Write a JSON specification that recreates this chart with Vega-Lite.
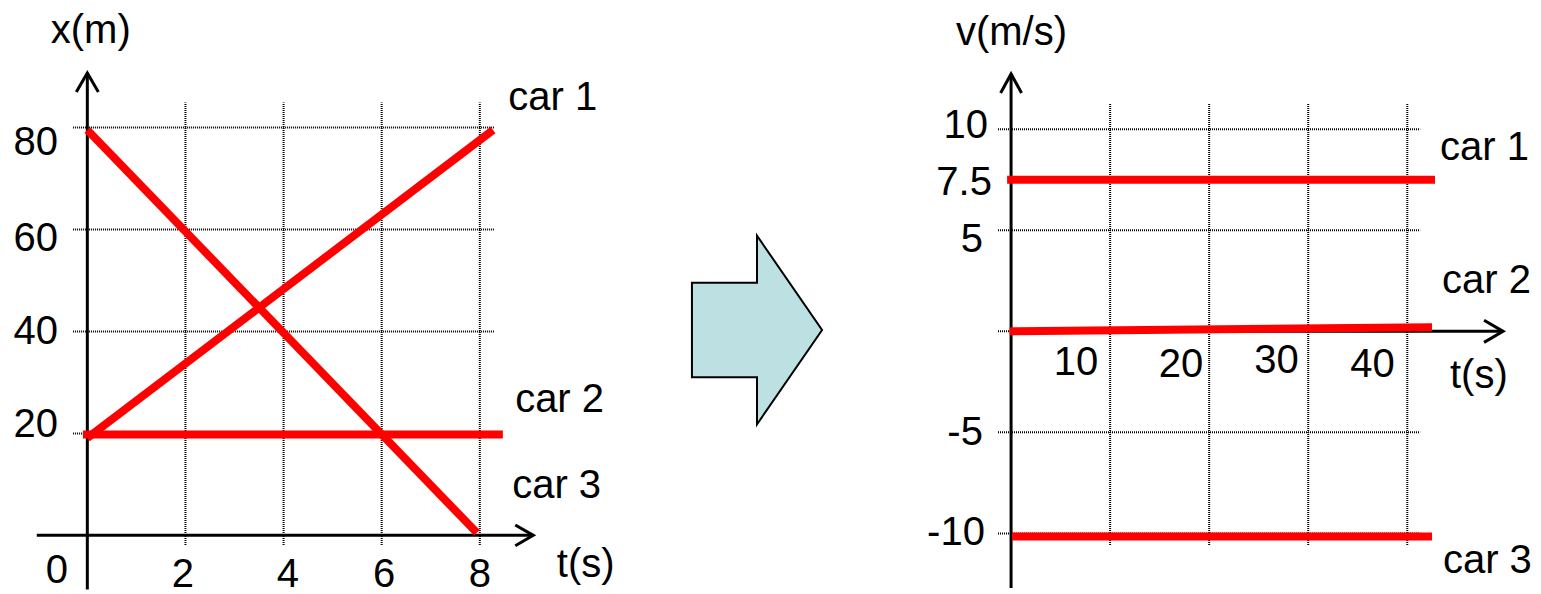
{
  "$schema": "https://vega.github.io/schema/vega-lite/v6.json",
  "description": "Position-time graph of three cars and the matching velocity-time graph",
  "background": "white",
  "padding": 0,
  "autosize": {"type": "pad"},
  "spacing": 0,
  "bounds": "flush",
  "config": {
    "view": {"stroke": null},
    "axis": {"disable": true},
    "text": {"font": "Liberation Sans", "fontSize": 40, "color": "black"}
  },
  "datasets": {
    "xGridLines": [{"x_m": 20}, {"x_m": 40}, {"x_m": 60}, {"x_m": 80}],
    "tGridLinesLeft": [{"t_s": 2}, {"t_s": 4}, {"t_s": 6}, {"t_s": 8}],
    "position": [
      {"car": "car 1", "t": 0, "x": 19.1},
      {"car": "car 1", "t": 8.27, "x": 79.5},
      {"car": "car 2", "t": -0.09, "x": 19.8},
      {"car": "car 2", "t": 8.47, "x": 19.8},
      {"car": "car 3", "t": 0, "x": 79.5},
      {"car": "car 3", "t": 7.94, "x": 0.5}
    ],
    "xTickText": [
      {"label": "80", "t": -0.6, "x": 74.6},
      {"label": "60", "t": -0.6, "x": 55.8},
      {"label": "40", "t": -0.6, "x": 37.5},
      {"label": "20", "t": -0.6, "x": 19.3}
    ],
    "leftCentredText": [
      {"label": "0", "t": -0.62, "x": -9.3},
      {"label": "2", "t": 1.95, "x": -10.2},
      {"label": "4", "t": 4.09, "x": -10.2},
      {"label": "6", "t": 6.05, "x": -10.2},
      {"label": "8", "t": 8.0, "x": -10.2},
      {"label": "x(m)", "t": 0.07, "x": 96.5}
    ],
    "leftNotes": [
      {"label": "car 1", "t": 8.58, "x": 83.4},
      {"label": "car 2", "t": 8.72, "x": 24.2},
      {"label": "car 3", "t": 8.66, "x": 7.3},
      {"label": "t(s)", "t": 9.57, "x": -8.2}
    ],
    "vGridLines": [{"v": 10}, {"v": 5}, {"v": 0}, {"v": -5}, {"v": -10}],
    "tGridLinesRight": [{"t_s": 10}, {"t_s": 20}, {"t_s": 30}, {"t_s": 40}],
    "velocity": [
      {"car": "car 1", "t": -0.4, "v": 7.5},
      {"car": "car 1", "t": 42.8, "v": 7.5},
      {"car": "car 2", "t": -0.15, "v": 0.0},
      {"car": "car 2", "t": 42.5, "v": 0.2},
      {"car": "car 3", "t": 0.1, "v": -10.15},
      {"car": "car 3", "t": 42.5, "v": -10.15}
    ],
    "vTickText": [
      {"label": "10", "t": -2.33, "v": 9.57},
      {"label": "7.5", "t": -1.93, "v": 6.75},
      {"label": "5", "t": -2.84, "v": 3.92},
      {"label": "-5", "t": -2.84, "v": -5.63},
      {"label": "-10", "t": -2.64, "v": -10.58}
    ],
    "rightCentredText": [
      {"label": "10", "t": 6.55, "v": -2.16},
      {"label": "20", "t": 17.15, "v": -2.26},
      {"label": "30", "t": 26.8, "v": -2.07},
      {"label": "40", "t": 36.5, "v": -2.26},
      {"label": "v(m/s)", "t": 0.04, "v": 14.17}
    ],
    "rightNotes": [
      {"label": "car 1", "t": 43.3, "v": 8.48},
      {"label": "car 2", "t": 43.5, "v": 1.9},
      {"label": "car 3", "t": 43.6, "v": -11.97},
      {"label": "t(s)", "t": 44.31, "v": -2.81}
    ]
  },
  "hconcat": [
    {
      "width": 600,
      "height": 594,
      "layer": [
        {
          "data": {"name": "xGridLines"},
          "mark": {"type": "rule", "stroke": "#000", "strokeWidth": 2, "strokeDash": [1, 1]},
          "encoding": {
            "y": {"field": "x_m", "type": "quantitative", "scale": {"domain": [-11.5, 105], "nice": false, "zero": false}},
            "x": {"datum": -0.29, "type": "quantitative", "scale": {"domain": [-1.78, 10.45], "nice": false, "zero": false}},
            "x2": {"datum": 8.29}
          }
        },
        {
          "data": {"name": "tGridLinesLeft"},
          "mark": {"type": "rule", "stroke": "#000", "strokeWidth": 2, "strokeDash": [1, 1]},
          "encoding": {
            "x": {"field": "t_s", "type": "quantitative", "scale": {"domain": [-1.78, 10.45], "nice": false, "zero": false}},
            "y": {"datum": -1.9, "type": "quantitative", "scale": {"domain": [-11.5, 105], "nice": false, "zero": false}},
            "y2": {"datum": 84.9}
          }
        },
        {
          "data": {"values": [{"axis": "t"}]},
          "mark": {"type": "rule", "color": "black", "strokeWidth": 3},
          "encoding": {
            "y": {"datum": 0, "type": "quantitative", "scale": {"domain": [-11.5, 105], "nice": false, "zero": false}},
            "x": {"datum": -1.03, "type": "quantitative", "scale": {"domain": [-1.78, 10.45], "nice": false, "zero": false}},
            "x2": {"datum": 9.09}
          }
        },
        {
          "data": {"values": [{"axis": "x"}]},
          "mark": {"type": "rule", "color": "black", "strokeWidth": 3},
          "encoding": {
            "x": {"datum": 0, "type": "quantitative", "scale": {"domain": [-1.78, 10.45], "nice": false, "zero": false}},
            "y": {"datum": -10.6, "type": "quantitative", "scale": {"domain": [-11.5, 105], "nice": false, "zero": false}},
            "y2": {"datum": 90.7}
          }
        },
        {
          "data": {"values": [{"axis": "t"}]},
          "mark": {"type": "point", "shape": "M -1 -0.58 L 0 0 L -1 0.58", "size": 1296, "filled": false, "color": "black", "strokeWidth": 3, "opacity": 1},
          "encoding": {
            "x": {"datum": 9.09, "type": "quantitative", "scale": {"domain": [-1.78, 10.45], "nice": false, "zero": false}},
            "y": {"datum": 0, "type": "quantitative", "scale": {"domain": [-11.5, 105], "nice": false, "zero": false}}
          }
        },
        {
          "data": {"values": [{"axis": "x"}]},
          "mark": {"type": "point", "shape": "M -0.58 1 L 0 0 L 0.58 1", "size": 1444, "filled": false, "color": "black", "strokeWidth": 3, "opacity": 1},
          "encoding": {
            "x": {"datum": 0, "type": "quantitative", "scale": {"domain": [-1.78, 10.45], "nice": false, "zero": false}},
            "y": {"datum": 90.7, "type": "quantitative", "scale": {"domain": [-11.5, 105], "nice": false, "zero": false}}
          }
        },
        {
          "data": {"name": "position"},
          "mark": {"type": "line", "color": "#ff0000", "strokeWidth": 8, "strokeCap": "butt"},
          "encoding": {
            "x": {"field": "t", "type": "quantitative", "scale": {"domain": [-1.78, 10.45], "nice": false, "zero": false}},
            "y": {"field": "x", "type": "quantitative", "scale": {"domain": [-11.5, 105], "nice": false, "zero": false}},
            "detail": {"field": "car"}
          }
        },
        {
          "data": {"name": "xTickText"},
          "mark": {"type": "text", "align": "right", "baseline": "alphabetic"},
          "encoding": {
            "x": {"field": "t", "type": "quantitative", "scale": {"domain": [-1.78, 10.45], "nice": false, "zero": false}},
            "y": {"field": "x", "type": "quantitative", "scale": {"domain": [-11.5, 105], "nice": false, "zero": false}},
            "text": {"field": "label"}
          }
        },
        {
          "data": {"name": "leftCentredText"},
          "mark": {"type": "text", "align": "center", "baseline": "alphabetic"},
          "encoding": {
            "x": {"field": "t", "type": "quantitative", "scale": {"domain": [-1.78, 10.45], "nice": false, "zero": false}},
            "y": {"field": "x", "type": "quantitative", "scale": {"domain": [-11.5, 105], "nice": false, "zero": false}},
            "text": {"field": "label"}
          }
        },
        {
          "data": {"name": "leftNotes"},
          "mark": {"type": "text", "align": "left", "baseline": "alphabetic"},
          "encoding": {
            "x": {"field": "t", "type": "quantitative", "scale": {"domain": [-1.78, 10.45], "nice": false, "zero": false}},
            "y": {"field": "x", "type": "quantitative", "scale": {"domain": [-11.5, 105], "nice": false, "zero": false}},
            "text": {"field": "label"}
          }
        }
      ]
    },
    {
      "width": 314,
      "height": 594,
      "data": {"values": [{"step": "x(t) to v(t)"}]},
      "mark": {
        "type": "point",
        "shape": "M -0.69 -0.5 L 0 -0.5 L 0 -1 L 0.69 0 L 0 1 L 0 0.5 L -0.69 0.5 Z",
        "size": 35570,
        "filled": true,
        "fill": "#bde0e3",
        "stroke": "black",
        "strokeWidth": 2,
        "opacity": 1
      },
      "encoding": {
        "x": {"datum": 0, "type": "quantitative", "scale": {"domain": [-1, 1], "nice": false, "zero": false}},
        "y": {"datum": 0, "type": "quantitative", "scale": {"domain": [-0.8, 1], "nice": false, "zero": false}}
      }
    },
    {
      "width": 627,
      "height": 594,
      "layer": [
        {
          "data": {"name": "vGridLines"},
          "mark": {"type": "rule", "stroke": "#000", "strokeWidth": 2, "strokeDash": [1, 1]},
          "encoding": {
            "y": {"field": "v", "type": "quantitative", "scale": {"domain": [-13, 16.4], "nice": false, "zero": false}},
            "x": {"datum": -1.32, "type": "quantitative", "scale": {"domain": [-9.8, 53.5], "nice": false, "zero": false}},
            "x2": {"datum": 41.3}
          }
        },
        {
          "data": {"name": "tGridLinesRight"},
          "mark": {"type": "rule", "stroke": "#000", "strokeWidth": 2, "strokeDash": [1, 1]},
          "encoding": {
            "x": {"field": "t_s", "type": "quantitative", "scale": {"domain": [-9.8, 53.5], "nice": false, "zero": false}},
            "y": {"datum": -10.58, "type": "quantitative", "scale": {"domain": [-13, 16.4], "nice": false, "zero": false}},
            "y2": {"datum": 11.3}
          }
        },
        {
          "data": {"values": [{"axis": "t"}]},
          "mark": {"type": "rule", "color": "black", "strokeWidth": 3},
          "encoding": {
            "y": {"datum": 0, "type": "quantitative", "scale": {"domain": [-13, 16.4], "nice": false, "zero": false}},
            "x": {"datum": 0, "type": "quantitative", "scale": {"domain": [-9.8, 53.5], "nice": false, "zero": false}},
            "x2": {"datum": 49.67}
          }
        },
        {
          "data": {"values": [{"axis": "v"}]},
          "mark": {"type": "rule", "color": "black", "strokeWidth": 3},
          "encoding": {
            "x": {"datum": 0, "type": "quantitative", "scale": {"domain": [-9.8, 53.5], "nice": false, "zero": false}},
            "y": {"datum": -12.7, "type": "quantitative", "scale": {"domain": [-13, 16.4], "nice": false, "zero": false}},
            "y2": {"datum": 12.74}
          }
        },
        {
          "data": {"values": [{"axis": "t"}]},
          "mark": {"type": "point", "shape": "M -1 -0.58 L 0 0 L -1 0.58", "size": 1444, "filled": false, "color": "black", "strokeWidth": 3, "opacity": 1},
          "encoding": {
            "x": {"datum": 49.67, "type": "quantitative", "scale": {"domain": [-9.8, 53.5], "nice": false, "zero": false}},
            "y": {"datum": 0, "type": "quantitative", "scale": {"domain": [-13, 16.4], "nice": false, "zero": false}}
          }
        },
        {
          "data": {"values": [{"axis": "v"}]},
          "mark": {"type": "point", "shape": "M -0.55 1 L 0 0 L 0.55 1", "size": 1444, "filled": false, "color": "black", "strokeWidth": 3, "opacity": 1},
          "encoding": {
            "x": {"datum": 0, "type": "quantitative", "scale": {"domain": [-9.8, 53.5], "nice": false, "zero": false}},
            "y": {"datum": 12.74, "type": "quantitative", "scale": {"domain": [-13, 16.4], "nice": false, "zero": false}}
          }
        },
        {
          "data": {"name": "velocity"},
          "mark": {"type": "line", "color": "#ff0000", "strokeWidth": 8, "strokeCap": "butt"},
          "encoding": {
            "x": {"field": "t", "type": "quantitative", "scale": {"domain": [-9.8, 53.5], "nice": false, "zero": false}},
            "y": {"field": "v", "type": "quantitative", "scale": {"domain": [-13, 16.4], "nice": false, "zero": false}},
            "detail": {"field": "car"}
          }
        },
        {
          "data": {"name": "vTickText"},
          "mark": {"type": "text", "align": "right", "baseline": "alphabetic"},
          "encoding": {
            "x": {"field": "t", "type": "quantitative", "scale": {"domain": [-9.8, 53.5], "nice": false, "zero": false}},
            "y": {"field": "v", "type": "quantitative", "scale": {"domain": [-13, 16.4], "nice": false, "zero": false}},
            "text": {"field": "label"}
          }
        },
        {
          "data": {"name": "rightCentredText"},
          "mark": {"type": "text", "align": "center", "baseline": "alphabetic"},
          "encoding": {
            "x": {"field": "t", "type": "quantitative", "scale": {"domain": [-9.8, 53.5], "nice": false, "zero": false}},
            "y": {"field": "v", "type": "quantitative", "scale": {"domain": [-13, 16.4], "nice": false, "zero": false}},
            "text": {"field": "label"}
          }
        },
        {
          "data": {"name": "rightNotes"},
          "mark": {"type": "text", "align": "left", "baseline": "alphabetic"},
          "encoding": {
            "x": {"field": "t", "type": "quantitative", "scale": {"domain": [-9.8, 53.5], "nice": false, "zero": false}},
            "y": {"field": "v", "type": "quantitative", "scale": {"domain": [-13, 16.4], "nice": false, "zero": false}},
            "text": {"field": "label"}
          }
        }
      ]
    }
  ]
}
